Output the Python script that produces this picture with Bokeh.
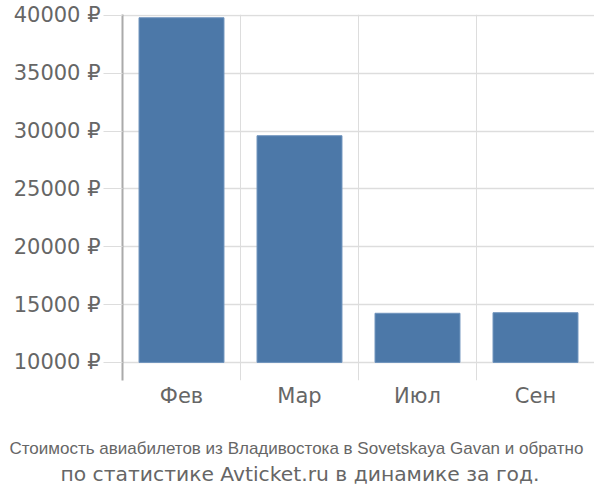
from bokeh.plotting import figure
from bokeh.models import FixedTicker, Range1d, Title
from bokeh.embed import file_html
from bokeh.resources import INLINE

months = ["Фев", "Мар", "Июл", "Сен"]
prices = [39800, 29600, 14250, 14300]
y_ticks = [10000, 15000, 20000, 25000, 30000, 35000, 40000]
y_tick_labels = ["10000 ₽", "15000 ₽", "20000 ₽", "25000 ₽", "30000 ₽", "35000 ₽", "40000 ₽"]
title_line1 = "Стоимость авиабилетов из Владивостока в Sovetskaya Gavan и обратно"
title_line2 = "по статистике Avticket.ru в динамике за год."
base_value = 10000

FONT = "DejaVu Sans"
TXT = "#666666"
GRID = "#dddddd"

n = len(months)
xs = [i + 0.5 for i in range(n)]

p = figure(width=594, height=492, output_backend="svg", toolbar_location=None,
           x_range=Range1d(0, n), y_range=Range1d(8438, 40080),
           min_border_left=122, min_border_right=0, min_border_top=14,
           min_border_bottom=112)
p.outline_line_color = None
p.background_fill_color = "white"

p.vbar(x=xs, top=prices, bottom=base_value, width=0.72,
       fill_color="#4c78a8", line_color="#6f93bd", line_width=1)

# x axis
p.xaxis.ticker = FixedTicker(ticks=xs)
p.xaxis.major_label_overrides = {x: m for x, m in zip(xs, months)}
p.xaxis.axis_line_color = None
p.xaxis.major_tick_line_color = None
p.xaxis.minor_tick_line_color = None
p.xaxis.major_label_text_font = FONT
p.xaxis.major_label_text_font_size = "21px"
p.xaxis.major_label_text_color = TXT
p.xaxis.major_label_standoff = -3

p.xgrid.ticker = FixedTicker(ticks=list(range(n + 1)))
p.xgrid.grid_line_color = GRID
p.xgrid.grid_line_width = 1

# y axis
p.yaxis.ticker = FixedTicker(ticks=y_ticks)
p.yaxis.major_label_overrides = {t: l for t, l in zip(y_ticks, y_tick_labels)}
p.yaxis.axis_line_color = "#aaaaaa"
p.yaxis.axis_line_width = 2
p.yaxis.major_tick_line_color = GRID
p.yaxis.major_tick_out = 19
p.yaxis.major_tick_in = 0
p.yaxis.minor_tick_line_color = None
p.yaxis.major_label_text_font = FONT
p.yaxis.major_label_text_font_size = "21px"
p.yaxis.major_label_text_color = TXT
p.yaxis.major_label_standoff = 3

p.ygrid.ticker = FixedTicker(ticks=y_ticks)
p.ygrid.grid_line_color = GRID
p.ygrid.grid_line_width = 1.5

spacer = Title(text=" ", standoff=23, text_font_size="1px", text_color="white")
t1 = Title(text=title_line1, align="left", offset=-113, standoff=0,
           text_font="Liberation Sans", text_font_size="17px", text_font_style="normal",
           text_color=TXT)
t2 = Title(text=title_line2, align="left", offset=-62, standoff=5,
           text_font=FONT, text_font_size="20.3px", text_font_style="normal",
           text_color=TXT)
p.add_layout(spacer, "below")
p.add_layout(t1, "below")
p.add_layout(t2, "below")

open("out.html", "w").write(file_html(p, INLINE))
